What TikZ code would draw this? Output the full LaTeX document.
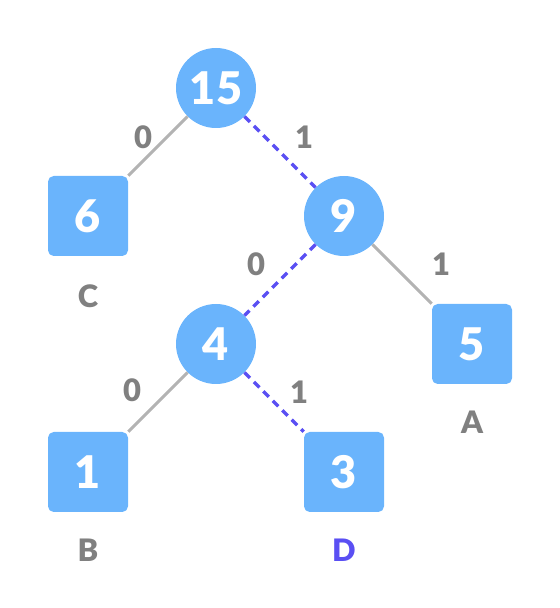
\documentclass[tikz,border=0pt]{standalone}
\usepackage{fontspec}
\setmainfont{Lato}[BoldFont={Lato Black}]
\usetikzlibrary{positioning}
\definecolor{nodeblue}{HTML}{6AB4FC}
\definecolor{pathblue}{HTML}{5A4FF3}
\definecolor{edgegray}{HTML}{B3B3B3}
\definecolor{textgray}{HTML}{808080}
\tikzset{
    inner/.style={circle,fill=nodeblue,minimum size=2cm,inner sep=0pt,text=white,font=\fontsize{32}{36}\selectfont\bfseries},
    leaf/.style={rectangle,rounded corners=4pt,fill=nodeblue,minimum size=2cm,inner sep=0pt,text=white,font=\fontsize{32}{36}\selectfont\bfseries},
    bit/.style={text=textgray,font=\fontsize{22}{26}\selectfont\bfseries},
    symb/.style={text=textgray,font=\fontsize{22}{26}\selectfont\bfseries},
    edge/.style={edgegray,line width=2.2pt},
    code/.style={pathblue,line width=2.4pt,dash pattern=on 5.5pt off 4pt}
}
\begin{document}
\begin{tikzpicture}
    \useasboundingbox (0,0) rectangle (14,15.2);

    \node[inner] (n15) at (5.4,13.0) {15};
    \node[leaf] (n6) at (2.2,9.8) {6};
    \node[inner] (n9) at (8.6,9.8) {9};
    \node[inner] (n4) at (5.4,6.6) {4};
    \node[leaf] (n5) at (11.8,6.6) {5};
    \node[leaf] (n1) at (2.2,3.4) {1};
    \node[leaf] (n3) at (8.6,3.4) {3};

    \draw[edge] (n15) -- (n6);
    \draw[code] (n15) -- (n9);
    \draw[code] (n9) -- (n4);
    \draw[edge] (n9) -- (n5);
    \draw[edge] (n4) -- (n1);
    \draw[code] (n4) -- (n3);

    \node[bit] (b1) at (3.58,11.78) {0};
    \node[bit] (b2) at (7.6,11.78) {1};
    \node[bit] (b3) at (6.4,8.6) {0};
    \node[bit] (b4) at (11.03,8.6) {1};
    \node[bit] (b5) at (3.3,5.45) {0};
    \node[bit] (b6) at (7.48,5.4) {1};

    \node[symb] (C) at (2.2,7.8) {C};
    \node[symb] (A) at (11.8,4.65) {A};
    \node[symb] (B) at (2.2,1.45) {B};
    \node[symb,text=pathblue] (D) at (8.6,1.45) {D};
\end{tikzpicture}
\end{document}
